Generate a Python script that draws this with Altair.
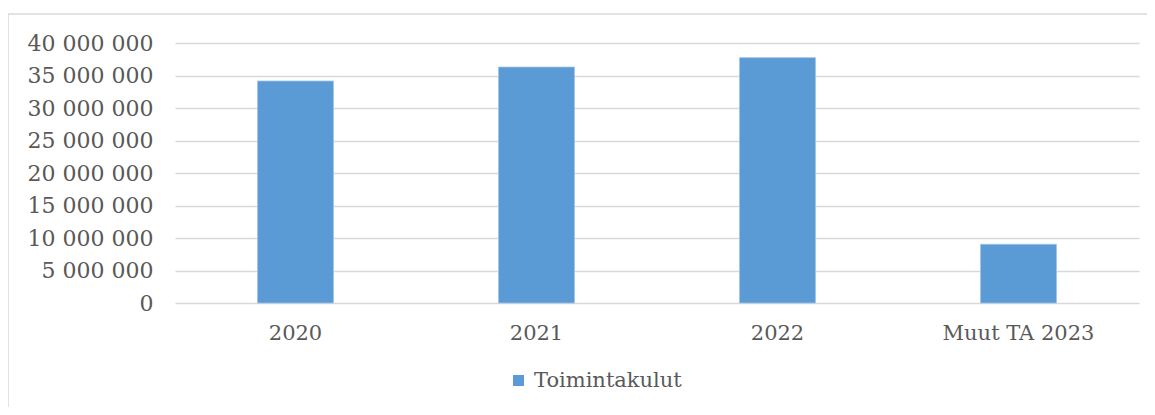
import altair as alt
import pandas as pd

categories = ["2020", "2021", "2022", "Muut TA 2023"]
values = [34150000, 36300000, 37750000, 9030000]
series = ["Toimintakulut"] * 4
y_ticks = [0, 5000000, 10000000, 15000000, 20000000, 25000000, 30000000, 35000000, 40000000]

df = pd.DataFrame({"category": categories, "value": values, "series": series})

FONT = "DejaVu Serif"
TXT = "#595959"

bars = alt.Chart(df).mark_bar(stroke="#9dc3e6", strokeWidth=0.8).encode(
    x=alt.X("category:N", sort=categories, title=None,
            scale=alt.Scale(paddingInner=0.685, paddingOuter=0.3425),
            axis=alt.Axis(labelAngle=0, labelFont=FONT, labelFontSize=21,
                          labelColor=TXT, ticks=False, domain=False, grid=False,
                          labelPadding=19)),
    y=alt.Y("value:Q", title=None,
            scale=alt.Scale(domain=[0, 40000000], nice=False),
            axis=alt.Axis(values=y_ticks, labelFont=FONT, labelFontSize=22,
                          labelColor=TXT, ticks=False, domain=False, labelPadding=22,
                          gridColor="#d9d9d9", gridWidth=1.5,
                          labelExpr="replace(format(datum.value, ','), /,/g, ' ')")),
    color=alt.Color("series:N", title=None,
                    scale=alt.Scale(range=["#5B9BD5"]),
                    legend=alt.Legend(orient="none", legendX=333, legendY=327,
                                      symbolType="square", symbolSize=120,
                                      symbolStrokeWidth=0,
                                      labelFont=FONT, labelFontSize=21,
                                      labelColor=TXT, labelOffset=5)),
)

frame_df = pd.DataFrame({"a": [0]})
top_line = alt.Chart(frame_df).mark_rule(color="#d9d9d9", strokeWidth=1.5).encode(
    x=alt.value(-167), x2=alt.value(1100), y=alt.value(-29)
)
left_line = alt.Chart(frame_df).mark_rule(color="#d9d9d9", strokeWidth=1.5).encode(
    x=alt.value(-167), y=alt.value(-29), y2=alt.value(400)
)

chart = alt.layer(bars, top_line, left_line).properties(
    width=964, height=260,
    padding={"left": 167, "top": 35, "right": 8, "bottom": 104},
    autosize=alt.AutoSizeParams(type="none"),
    background="white",
).configure_view(stroke=None, strokeWidth=0)

chart.save("out.html", embed_options={"renderer": "svg", "actions": False})
